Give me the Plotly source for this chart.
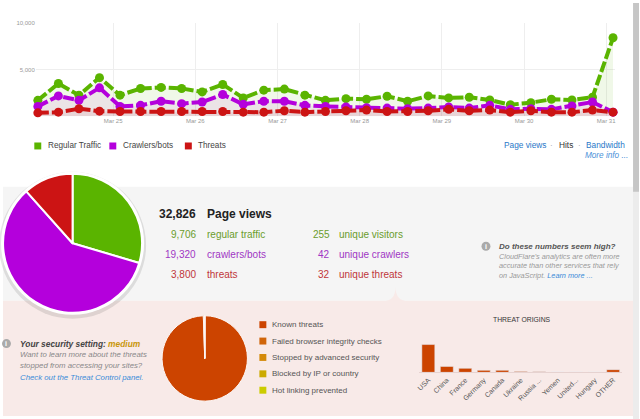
import pandas as pd
import plotly.graph_objects as go

W, H = 640, 419
FONT = "Liberation Sans, Arial, sans-serif"

# ---- traffic over time (6 hourly samples) ----
times = pd.date_range("2014-03-24 02:00", periods=29, freq="6h")
regular = [1700, 3500, 2250, 4130, 2250, 2970, 3080, 2970, 2600, 3400,
           1960, 2790, 2900, 2250, 1700, 1880, 1810, 2140, 1600, 2170,
           1960, 2030, 1740, 1230, 1450, 1810, 1740, 2030, 8400]
crawlers = [1050, 2170, 1700, 3040, 1050, 1160, 1600, 1340, 1520, 2320,
            1270, 1600, 1600, 1160, 1050, 980, 900, 870, 800, 870,
            980, 870, 1160, 730, 800, 730, 1090, 1520, 430]
threats = [360, 430, 800, 540, 500, 500, 500, 500, 500, 500,
           430, 430, 580, 430, 500, 580, 650, 500, 500, 580,
           730, 580, 650, 430, 580, 430, 430, 650, 430]

# ---- page view totals ----
pie_labels = ["Regular Traffic", "Crawlers/bots", "Threats"]
pie_values = [9706, 19320, 3800]
row_labels = ["regular traffic", "crawlers/bots", "threats"]
unique_values = [255, 42, 32]
unique_labels = ["unique visitors", "unique crawlers", "unique threats"]
total_views = 32826

# ---- threat types ----
threat_types = ["Known threats", "Failed browser integrity checks",
                "Stopped by advanced security", "Blocked by IP or country",
                "Hot linking prevented"]
threat_type_values = [3780, 20, 0, 0, 0]

# ---- threat origins ----
countries = ["USA", "China", "France", "Germany", "Canada", "Ukraine",
             "Russia ...", "Yemen", "United...", "Hungary", "OTHER"]
country_threats = [2300, 490, 330, 165, 165, 60, 55, 15, 12, 10, 220]

green, purple, red = "#5ab400", "#b400dc", "#cc1414"
text_cols = ["#6a9c2c", "#a035c4", "#c0353a"]
threat_cols = ["#cc4400", "#d0650a", "#d48a0a", "#ccaa00", "#cccc00"]


def px(x):
    return x / W


def py(y):
    return 1 - y / H


shapes = []
annotations = []


def rect(x0, y0, x1, y1, color, kind="rect"):
    shapes.append(dict(type=kind, xref="paper", yref="paper", x0=px(x0), x1=px(x1),
                       y0=py(y1), y1=py(y0), fillcolor=color, line_width=0, layer="below"))


def note(x, y, text, size=11, color="#444", anchor="left"):
    annotations.append(dict(x=px(x), y=py(y), xref="paper", yref="paper", text=text,
                            showarrow=False, xanchor=anchor, yanchor="middle",
                            font=dict(family=FONT, size=size, color=color)))


# panels
rect(0, 185, 634, 300, "#f5f5f5")
rect(0, 300, 634, 416, "#f8eae8")
shapes.append(dict(type="path", xref="paper", yref="paper", layer="below", line_width=0,
                   fillcolor="#f8eae8",
                   path="M %f,%f Q %f,%f %f,%f Q %f,%f %f,%f Z" % (
                       px(382), py(300.5), px(395), py(300), px(395), py(286),
                       px(395), py(300), px(408), py(300.5))))
# scrollbar
rect(634, 0, 640, 419, "#ececec")
rect(634, 0, 640, 190, "#c6c6c6")

# shadow + white ring around the big pie
rect(-4, 170, 144, 318, "rgba(0,0,0,0.10)", "circle")
rect(-2, 170, 142, 314, "#ffffff", "circle")

fig = go.Figure()

for name, vals, col, fill in [("Regular Traffic", regular, green, "rgba(90,180,0,0.09)"),
                              ("Crawlers/bots", crawlers, purple, "rgba(180,0,220,0.08)"),
                              ("Threats", threats, red, "rgba(204,20,20,0.08)")]:
    fig.add_trace(go.Scatter(x=times, y=vals, name=name, mode="lines+markers",
                             line=dict(color=col, width=4, dash="11px,3px"),
                             marker=dict(color=col, size=9), fill="tozeroy",
                             fillcolor=fill, cliponaxis=False, showlegend=False))

fig.add_trace(go.Pie(labels=pie_labels, values=pie_values, sort=False,
                     direction="clockwise", rotation=0, textinfo="none",
                     marker=dict(colors=[green, purple, red], line=dict(color="white", width=2)),
                     domain=dict(x=[px(0), px(140)], y=[py(312), py(172)]),
                     showlegend=False))

fig.add_trace(go.Pie(labels=threat_types, values=threat_type_values, sort=False,
                     direction="clockwise", rotation=0, textinfo="none",
                     marker=dict(colors=threat_cols, line=dict(color="#fdf6f4", width=1)),
                     domain=dict(x=[px(160), px(246)], y=[py(401), py(315)]),
                     showlegend=False))

fig.add_trace(go.Bar(x=countries, y=country_threats, marker_color="#cc4400",
                     width=0.7, xaxis="x2", yaxis="y2", showlegend=False))

# line chart legend and view switcher
for i, (lab, col) in enumerate(zip(pie_labels, [green, purple, red])):
    x0 = [31.5, 107, 183][i]
    rect(x0, 140.5, x0 + 7, 147.5, col)
    note(x0 + 11.5, 144, lab, 8.2, "#444")
note(502, 143.5, "Page views", 8.3, "#2a78c8")
note(548, 143.5, "·", 8, "#999")
note(557, 143.5, "Hits", 8.3, "#333")
note(577, 143.5, "·", 8, "#999")
note(585, 143, "Bandwidth", 8.3, "#2a78c8")
note(584, 153.5, "<i>More info ...</i>", 8.2, "#4a90d8")

# totals block
note(196, 213, "<b>%s</b>" % format(total_views, ","), 12, "#222", "right")
note(203, 213, "<b>Page views</b>", 12, "#222")
for i in range(3):
    y = 233 + 20 * i
    note(196, y, format(pie_values[i], ","), 10, text_cols[i], "right")
    note(203, y, row_labels[i], 10, text_cols[i])
    note(331, y, str(unique_values[i]), 10, text_cols[i], "right")
    note(336, y, unique_labels[i], 10, text_cols[i])

# info box
rect(481.5, 240.5, 490.5, 249.5, "#aaaaaa", "circle")
note(486, 245, "<b>i</b>", 7, "white", "center")
note(497, 245, "<b><i>Do these numbers seem high?</i></b>", 8, "#555")
note(497, 255, "<i>CloudFlare's analytics are often more</i>", 7.3, "#999")
note(497, 264.5, "<i>accurate than other services that rely</i>", 7.3, "#999")
note(497, 274, "<i>on JavaScript. </i><i><span style='color:#3a8ad8'>Learn more ...</span></i>", 7.3, "#999")

# security note
rect(-1, 338.5, 8, 347.5, "#aaaaaa", "circle")
note(3.5, 343, "<b>i</b>", 7, "white", "center")
note(15, 343, "<b><i>Your security setting: <span style='color:#c8960a'>medium</span></i></b>", 8.4, "#444")
note(15, 354.5, "<i>Want to learn more about the threats</i>", 7.8, "#888")
note(15, 365.5, "<i>stopped from accessing your sites?</i>", 7.8, "#888")
note(15, 377, "<i>Check out the Threat Control panel.</i>", 7.8, "#3a8ad8")

# threat type legend
for i, lab in enumerate(threat_types):
    y = 324 + 16.5 * i
    rect(258, y - 3.5, 265, y + 3.5, threat_cols[i])
    note(269, y, lab, 8, "#555")

note(522, 319, "THREAT ORIGINS", 6.8, "#333", "center")

fig.update_layout(
    width=W, height=H, margin=dict(l=0, r=0, t=0, b=0),
    paper_bgcolor="white", plot_bgcolor="rgba(0,0,0,0)",
    font=dict(family=FONT, size=9, color="#888"),
    xaxis=dict(domain=[px(33), px(616)], type="date",
               range=["2014-03-24 01:24", "2014-03-31 02:37"],
               tick0="2014-03-25", dtick=86400000, tickformat="%b %d",
               showgrid=True, gridcolor="#eeeeee", zeroline=False, showline=False,
               ticks="", tickfont=dict(size=6, color="#999")),
    yaxis=dict(domain=[py(114), py(20)], range=[0, 10000],
               tickvals=[5000, 10000], ticktext=["5,000", "10,000"],
               showgrid=True, gridcolor="#eeeeee", zeroline=False, showline=False,
               ticks="", tickfont=dict(size=6, color="#999")),
    xaxis2=dict(domain=[px(418.7), px(623.3)], anchor="y2", range=[-0.5, 10.5],
                tickangle=-45, showline=True, linecolor="#e6d2d0", showgrid=False,
                ticks="", tickfont=dict(size=7, color="#555")),
    yaxis2=dict(domain=[py(372), py(340)], anchor="x2", range=[0, 2630], visible=False),
    shapes=shapes, annotations=annotations,
)

fig.write_html("out.html", config={"displayModeBar": False},
               post_script="document.body.style.margin='0';document.body.style.overflow='hidden';")
